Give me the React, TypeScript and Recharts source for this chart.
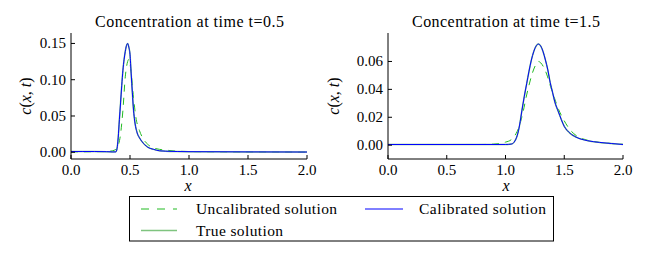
import React from 'react';
import { LineChart, Line, XAxis, YAxis } from 'recharts';

// ---- Data: t = 0.5 ----
const uncalX05 = [0, 0.1, 0.2, 0.3, 0.35, 0.38, 0.4, 0.42, 0.44, 0.46, 0.48, 0.49, 0.5, 0.51, 0.53, 0.55, 0.58, 0.6, 0.65, 0.7, 0.75, 0.8, 0.9, 1.0, 1.5, 2.0];
const uncalV05 = [0.0005, 0.0006, 0.0008, 0.001, 0.002, 0.004, 0.009, 0.025, 0.058, 0.104, 0.125, 0.128, 0.122, 0.11, 0.075, 0.048, 0.03, 0.022, 0.011, 0.006, 0.004, 0.003, 0.0015, 0.001, 0.0004, 0.0002];
const calX05 = [0, 0.1, 0.2, 0.3, 0.35, 0.38, 0.39, 0.4, 0.41, 0.42, 0.43, 0.44, 0.45, 0.46, 0.47, 0.48, 0.49, 0.5, 0.51, 0.52, 0.53, 0.54, 0.56, 0.58, 0.6, 0.65, 0.7, 0.75, 0.8, 0.9, 1.0, 1.5, 2.0];
const calV05 = [0.001, 0.001, 0.001, 0.0008, 0.0005, 0.0005, 0.005, 0.02, 0.045, 0.068, 0.092, 0.113, 0.128, 0.139, 0.147, 0.15, 0.145, 0.135, 0.108, 0.082, 0.058, 0.043, 0.027, 0.02, 0.015, 0.007, 0.004, 0.002, 0.0015, 0.001, 0.0008, 0.0005, 0.0003];
const trueV05 = [0.001, 0.001, 0.001, 0.0008, 0.0005, 0.0006, 0.005, 0.02, 0.045, 0.068, 0.092, 0.113, 0.128, 0.139, 0.147, 0.15, 0.145, 0.135, 0.108, 0.082, 0.058, 0.043, 0.027, 0.02, 0.015, 0.007, 0.004, 0.002, 0.0015, 0.001, 0.0008, 0.0005, 0.0003];

// ---- Data: t = 1.5 ----
const uncalX15 = [0, 0.4, 0.8, 0.9, 0.95, 1.0, 1.05, 1.08, 1.1, 1.12, 1.15, 1.18, 1.2, 1.23, 1.26, 1.28, 1.3, 1.33, 1.35, 1.38, 1.42, 1.45, 1.49, 1.55, 1.6, 1.7, 1.8, 1.9, 2.0];
const uncalV15 = [0.0005, 0.0005, 0.0005, 0.0008, 0.0012, 0.0022, 0.004, 0.007, 0.01, 0.0144, 0.024, 0.036, 0.043, 0.052, 0.058, 0.06, 0.059, 0.055, 0.051, 0.043, 0.033, 0.026, 0.019, 0.011, 0.007, 0.0035, 0.002, 0.0012, 0.0006];
const calX15 = [0, 0.4, 0.8, 1.0, 1.05, 1.08, 1.1, 1.12, 1.14, 1.16, 1.18, 1.2, 1.22, 1.24, 1.26, 1.28, 1.3, 1.32, 1.34, 1.36, 1.38, 1.4, 1.42, 1.45, 1.5, 1.55, 1.6, 1.7, 1.8, 1.9, 2.0];
const calV15 = [0.0005, 0.0005, 0.0005, 0.0005, 0.0008, 0.003, 0.007, 0.0144, 0.025, 0.035, 0.044, 0.053, 0.061, 0.067, 0.071, 0.0725, 0.071, 0.067, 0.061, 0.054, 0.045, 0.038, 0.031, 0.024, 0.0135, 0.0085, 0.0058, 0.0032, 0.002, 0.0012, 0.0005];
const trueV15 = [0.0005, 0.0005, 0.0005, 0.0005, 0.0008, 0.003, 0.007, 0.0144, 0.025, 0.035, 0.044, 0.053, 0.061, 0.067, 0.071, 0.0725, 0.071, 0.067, 0.061, 0.054, 0.045, 0.038, 0.031, 0.024, 0.0135, 0.0085, 0.0058, 0.0032, 0.002, 0.0012, 0.0005];

// ---- Ticks / labels ----
const xTicks = [0, 0.5, 1, 1.5, 2];
const yTicks05 = [0, 0.05, 0.1, 0.15];
const yTicks15 = [0, 0.02, 0.04, 0.06];
const titles = ['Concentration at time t=0.5', 'Concentration at time t=1.5'];
const legendLabels = ['Uncalibrated solution', 'Calibrated solution', 'True solution'];

const zip = (xs: number[], vs: number[]) => xs.map((x, i) => ({ x, v: vs[i] }));

const FONT = "'Liberation Serif', 'DejaVu Serif', 'Times New Roman', serif";
const TXT: React.CSSProperties = { fontFamily: FONT };
const GREEN_DASH = '#22bb22';
const BLUE = '#0000ff';
const TRUE_GREEN = '#7fc47f';

const BottomTick = (props: any) => {
  const { x, y, payload } = props;
  return (
    <g>
      <line x1={x} y1={y} x2={x} y2={y - 4} stroke="#000" strokeWidth={1} />
      <text x={x} y={y + 16} textAnchor="middle" fontSize={15} style={TXT} fill="#000">
        {Number(payload.value).toFixed(1)}
      </text>
    </g>
  );
};
const TopTick = (props: any) => {
  const { x, y } = props;
  return <line x1={x} y1={y} x2={x} y2={y + 4} stroke="#000" strokeWidth={1} />;
};
const LeftTick = (props: any) => {
  const { x, y, payload } = props;
  return (
    <g>
      <line x1={x} y1={y} x2={x + 4} y2={y} stroke="#000" strokeWidth={1} />
      <text x={x - 5} y={y + 5} textAnchor="end" fontSize={15} style={TXT} fill="#000">
        {Number(payload.value).toFixed(2)}
      </text>
    </g>
  );
};
const RightTick = (props: any) => {
  const { x, y } = props;
  return <line x1={x} y1={y} x2={x - 4} y2={y} stroke="#000" strokeWidth={1} />;
};

type PanelProps = {
  width: number;
  yAxisWidth: number;
  right: number;
  yDomain: [number, number];
  yTicks: number[];
  uncal: { x: number; v: number }[];
  cal: { x: number; v: number }[];
  tru: { x: number; v: number }[];
};

const Panel = ({ width, yAxisWidth, right, yDomain, yTicks, uncal, cal, tru }: PanelProps) => (
  <LineChart width={width} height={200} margin={{ top: 33, right, bottom: 0, left: 0 }}>
    <XAxis dataKey="x" type="number" domain={[0, 2]} ticks={xTicks} allowDataOverflow height={41}
      tickSize={0} tickMargin={0} tick={<BottomTick />} axisLine={{ stroke: '#000' }} tickLine={false} interval={0} />
    <XAxis xAxisId="top" orientation="top" dataKey="x" type="number" domain={[0, 2]} ticks={xTicks} allowDataOverflow height={0}
      tickSize={0} tickMargin={0} tick={<TopTick />} axisLine={{ stroke: '#000' }} tickLine={false} interval={0} />
    <YAxis type="number" domain={yDomain} ticks={yTicks} allowDataOverflow width={yAxisWidth}
      tickSize={0} tickMargin={0} tick={<LeftTick />} axisLine={{ stroke: '#000' }} tickLine={false} interval={0} />
    <YAxis yAxisId="right" orientation="right" type="number" domain={yDomain} ticks={yTicks} allowDataOverflow width={0}
      tickSize={0} tickMargin={0} tick={<RightTick />} axisLine={{ stroke: '#000' }} tickLine={false} interval={0} />
    <Line data={uncal} dataKey="v" type="monotone" stroke={GREEN_DASH} strokeWidth={1} strokeDasharray="7 6" dot={false} isAnimationActive={false} />
    <Line data={tru} dataKey="v" type="monotone" stroke={TRUE_GREEN} strokeWidth={1.5} dot={false} isAnimationActive={false} />
    <Line data={cal} dataKey="v" type="monotone" stroke={BLUE} strokeWidth={1} dot={false} isAnimationActive={false} />
  </LineChart>
);

const YLabel = ({ cx, cy }: { cx: number; cy: number }) => (
  <text x={cx} y={cy} transform={`rotate(-90 ${cx} ${cy})`} textAnchor="middle" fontSize={16} style={TXT} fill="#000" dominantBaseline="central">
    <tspan fontStyle="italic">c</tspan>(<tspan fontStyle="italic">x</tspan>, <tspan fontStyle="italic">t</tspan>)
  </text>
);

export default function App() {
  return (
    <div style={{ position: 'absolute', left: 0, top: 0, width: 650, height: 256, background: '#fff', overflow: 'hidden' }}>
      <div style={{ position: 'absolute', left: 0, top: 0 }}>
        <Panel width={320} yAxisWidth={71} right={13} yDomain={[-0.0093, 0.1644]} yTicks={yTicks05}
          uncal={zip(uncalX05, uncalV05)} cal={zip(calX05, calV05)} tru={zip(calX05, trueV05)} />
      </div>
      <div style={{ position: 'absolute', left: 320, top: 0 }}>
        <Panel width={330} yAxisWidth={68} right={27} yDomain={[-0.0099, 0.0804]} yTicks={yTicks15}
          uncal={zip(uncalX15, uncalV15)} cal={zip(calX15, calV15)} tru={zip(calX15, trueV15)} />
      </div>
      <svg width={650} height={256} style={{ position: 'absolute', left: 0, top: 0, pointerEvents: 'none' }}>
        <text x={95} y={27} fontSize={16} style={TXT} fill="#000" textLength={189} lengthAdjust="spacing">{titles[0]}</text>
        <text x={412} y={27} fontSize={16} style={TXT} fill="#000" textLength={188} lengthAdjust="spacing">{titles[1]}</text>
        <YLabel cx={25} cy={96} />
        <YLabel cx={333} cy={96} />
        <text x={188} y={191} textAnchor="middle" fontSize={16} fontStyle="italic" style={TXT} fill="#000">x</text>
        <text x={506} y={191} textAnchor="middle" fontSize={16} fontStyle="italic" style={TXT} fill="#000">x</text>
        <rect x={129.5} y={196.5} width={424} height={44.5} fill="#fff" stroke="#000" strokeWidth={1} />
        <line x1={141} y1={209} x2={177} y2={209} stroke={GREEN_DASH} strokeWidth={1} strokeDasharray="8 8" />
        <text x={196} y={214} fontSize={15.5} style={TXT} fill="#000" textLength={141} lengthAdjust="spacing">{legendLabels[0]}</text>
        <line x1={365} y1={209} x2={403} y2={209} stroke={BLUE} strokeWidth={1} />
        <text x={419} y={214} fontSize={15.5} style={TXT} fill="#000" textLength={127} lengthAdjust="spacing">{legendLabels[1]}</text>
        <line x1={141} y1={230.5} x2={177} y2={230.5} stroke={TRUE_GREEN} strokeWidth={1.5} />
        <text x={196} y={235.5} fontSize={15.5} style={TXT} fill="#000" textLength={87} lengthAdjust="spacing">{legendLabels[2]}</text>
      </svg>
    </div>
  );
}
